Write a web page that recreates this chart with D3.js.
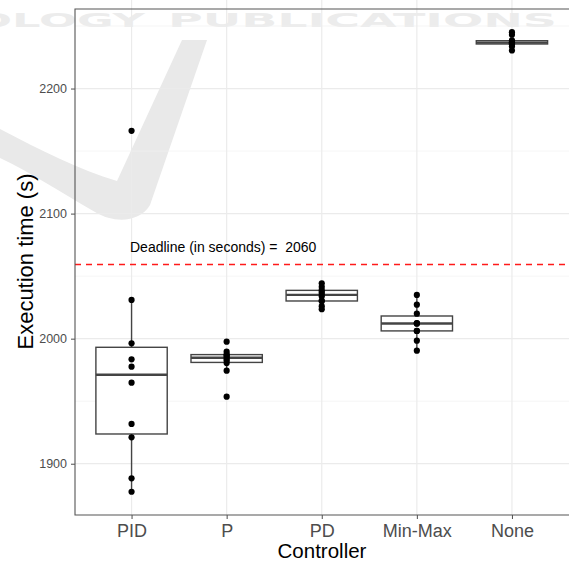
<!DOCTYPE html>
<html>
<head>
<meta charset="utf-8">
<script src="https://cdn.jsdelivr.net/npm/d3@7"></script>
<style>
  html, body { margin: 0; padding: 0; background: #fff; }
  svg { display: block; font-family: "Liberation Sans", Arial, Helvetica, sans-serif; }
</style>
</head>
<body>
<svg id="chart" width="569" height="562"></svg>
<script>
// ---- data ----
const categories = ["PID", "P", "PD", "Min-Max", "None"];
const pidValues = [1877.6, 1888.3, 1921.1, 1931.8, 1964.8, 1977.6, 1983.5, 1996.3, 2031.0, 2166.2];
const pValues = [1953.6, 1974.4, 1980.5, 1982.5, 1984.0, 1985.5, 1986.5, 1987.5, 1989.6, 1997.6];
const pdValues = [2023.5, 2026.0, 2030.0, 2030.5, 2034.0, 2036.0, 2037.5, 2039.0, 2041.5, 2044.3];
const minMaxValues = [1990.4, 1998.4, 2006.2, 2006.2, 2012.0, 2012.3, 2012.5, 2020.0, 2027.2, 2035.0];
const noneValues = [2230.4, 2233.6, 2235.5, 2236.0, 2236.5, 2237.0, 2237.5, 2238.5, 2243.0, 2245.1];
const seriesValues = [pidValues, pValues, pdValues, minMaxValues, noneValues];
const yTicks = [1900, 2000, 2100, 2200];
const yMinorTicks = [1950, 2050, 2150, 2250];
const deadline = 2060;
const deadlineLabel = "Deadline (in seconds) =  2060";
const xTitle = "Controller";
const yTitle = "Execution time (s)";

// ---- layout ----
const svg = d3.select("#chart");
const pLeft = 75, pRight = 569, pTop = 9, pBottom = 515;

const x = d3.scalePoint().domain(categories).range([pLeft - 0.5, pRight]).padding(0.6);
const step = x.step();
const y = d3.scaleLinear().domain([1859, 2263.6]).range([pBottom, pTop]);

// ---- watermark (background) ----
const wm = svg.append("g").attr("class", "watermark");
wm.append("path")
  .attr("d", "M0,129 C40,150 80,170 117,181 L182,40 L207,40 L150,205 C140,222 115,224 95,212 C60,192 30,172 0,158 Z")
  .attr("fill", "#e9e9e9");
wm.append("text").attr("x", -26).attr("y", 27)
  .attr("textLength", 171).attr("lengthAdjust", "spacingAndGlyphs")
  .attr("font-family", "DejaVu Sans").attr("font-weight", "bold").attr("font-size", 19.5)
  .attr("fill", "#ececec").text("OLOGY");
wm.append("text").attr("x", 168).attr("y", 27)
  .attr("textLength", 389).attr("lengthAdjust", "spacingAndGlyphs")
  .attr("font-family", "DejaVu Sans").attr("font-weight", "bold").attr("font-size", 19.5)
  .attr("fill", "#ececec").text("PUBLICATIONS");

// ---- grid ----
const grid = svg.append("g");
grid.selectAll("line.minor").data(yMinorTicks).join("line")
  .attr("x1", pLeft).attr("x2", pRight)
  .attr("y1", d => y(d)).attr("y2", d => y(d))
  .attr("stroke", "#f0f0f0").attr("stroke-width", 0.7);
grid.selectAll("line.majy").data(yTicks).join("line")
  .attr("x1", pLeft).attr("x2", pRight)
  .attr("y1", d => y(d)).attr("y2", d => y(d))
  .attr("stroke", "#ebebeb").attr("stroke-width", 1.2);
grid.selectAll("line.majx").data(categories).join("line")
  .attr("x1", d => x(d)).attr("x2", d => x(d))
  .attr("y1", 0).attr("y2", pBottom)
  .attr("stroke", "#ebebeb").attr("stroke-width", 1.2);

// ---- deadline ----
svg.append("line")
  .attr("x1", pLeft).attr("x2", pRight)
  .attr("y1", Math.round(y(deadline)) + 0.5).attr("y2", Math.round(y(deadline)) + 0.5)
  .attr("stroke", "#ff1a1a").attr("stroke-width", 1.4)
  .attr("stroke-dasharray", "6,5");
svg.append("text")
  .attr("x", 130).attr("y", y(deadline) - 11.5)
  .attr("font-size", 14).attr("fill", "#000")
  .style("white-space", "pre")
  .text(deadlineLabel);

// ---- boxplots ----
const boxW = step * 0.75;
const boxes = svg.append("g");
categories.forEach((cat, i) => {
  const vals = seriesValues[i].slice().sort(d3.ascending);
  const q1 = d3.quantile(vals, 0.25);
  const med = d3.quantile(vals, 0.5);
  const q3 = d3.quantile(vals, 0.75);
  const iqr = q3 - q1;
  const lo = d3.min(vals.filter(v => v >= q1 - 1.5 * iqr));
  const hi = d3.max(vals.filter(v => v <= q3 + 1.5 * iqr));
  const cx = x(cat);
  const g = boxes.append("g");
  g.append("line").attr("x1", cx).attr("x2", cx).attr("y1", y(q3)).attr("y2", y(hi))
    .attr("stroke", "#444").attr("stroke-width", 1.4);
  g.append("line").attr("x1", cx).attr("x2", cx).attr("y1", y(q1)).attr("y2", y(lo))
    .attr("stroke", "#444").attr("stroke-width", 1.4);
  g.append("rect")
    .attr("x", cx - boxW / 2).attr("width", boxW)
    .attr("y", y(q3)).attr("height", Math.max(0.5, y(q1) - y(q3)))
    .attr("fill", "#fff").attr("stroke", "#444").attr("stroke-width", 1.4);
  g.append("line").attr("x1", cx - boxW / 2).attr("x2", cx + boxW / 2)
    .attr("y1", y(med)).attr("y2", y(med))
    .attr("stroke", "#444").attr("stroke-width", 2.4);
  g.selectAll("circle").data(vals).join("circle")
    .attr("cx", cx).attr("cy", d => y(d)).attr("r", 3.1).attr("fill", "#000");
});

// ---- axes ----
const yAxis = svg.append("g").attr("transform", `translate(${pLeft},0)`)
  .call(d3.axisLeft(y).tickValues(yTicks).tickSize(4).tickPadding(4).tickFormat(d3.format("d")));
yAxis.select(".domain").remove();
yAxis.selectAll(".tick line").attr("stroke", "#4d4d4d").attr("stroke-width", 1);
yAxis.selectAll(".tick text").attr("fill", "#4d4d4d").attr("font-size", 12.5)
  .attr("font-family", "Liberation Sans, Arial, sans-serif");

const xAxis = svg.append("g").attr("transform", `translate(0,${pBottom})`)
  .call(d3.axisBottom(x).tickSize(4).tickPadding(5));
xAxis.select(".domain").remove();
xAxis.selectAll(".tick line").attr("stroke", "#4d4d4d").attr("stroke-width", 1);
xAxis.selectAll(".tick text").attr("fill", "#4d4d4d").attr("font-size", 18)
  .attr("font-family", "Liberation Sans, Arial, sans-serif");

// panel border (left, top, bottom)
svg.append("path")
  .attr("d", `M${pRight + 2},${pTop} H${pLeft} V${pBottom} H${pRight + 2}`)
  .attr("fill", "none").attr("stroke", "#555").attr("stroke-width", 1.1);

// ---- titles ----
svg.append("text")
  .attr("x", (pLeft + pRight) / 2).attr("y", 557.5)
  .attr("text-anchor", "middle").attr("font-size", 20.5).attr("fill", "#000")
  .text(xTitle);
svg.append("text")
  .attr("transform", `translate(33,${261.5}) rotate(-90)`)
  .attr("text-anchor", "middle").attr("font-size", 22).attr("fill", "#000")
  .text(yTitle);
</script>
</body>
</html>
